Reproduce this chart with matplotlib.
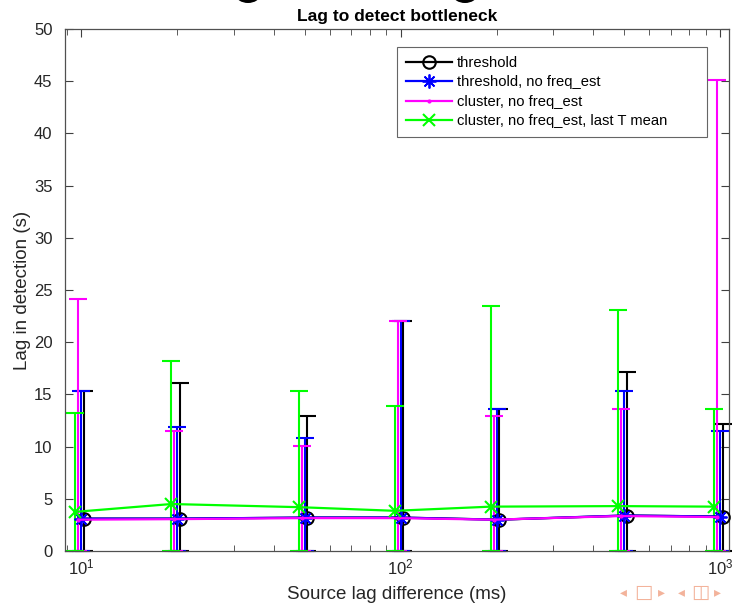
import matplotlib
matplotlib.use("Agg")
import matplotlib.pyplot as plt
import numpy as np
from matplotlib.patches import Ellipse
from matplotlib.ticker import LogLocator, NullFormatter, LogFormatterMathtext

plt.rcParams['font.family'] = ['Liberation Sans', 'DejaVu Sans']

# ---- data ----
source_lag = [10, 20, 50, 100, 200, 500, 1000]

thr_mean = [3.1, 3.1, 3.2, 3.2, 3.0, 3.4, 3.3]
thr_low = [0, 0, 0, 0, 0, 0, 0]
thr_high = [15.3, 16.05, 12.9, 22.0, 13.6, 17.15, 12.2]

thrnf_mean = [3.1, 3.1, 3.2, 3.2, 3.0, 3.4, 3.3]
thrnf_low = [0, 0, 0, 0, 0, 0, 0]
thrnf_high = [15.35, 11.9, 10.8, 22.0, 13.6, 15.35, 11.5]

clu_mean = [3.0, 3.05, 3.15, 3.15, 3.0, 3.35, 3.25]
clu_low = [0, 0, 0, 0, 0, 0, 0]
clu_high = [24.1, 11.5, 10.1, 22.0, 12.9, 13.6, 45.1]

cluT_mean = [3.75, 4.5, 4.2, 3.85, 4.25, 4.3, 4.25]
cluT_low = [0, 0, 0, 0, 0, 0, 0]
cluT_high = [13.25, 18.2, 15.35, 13.9, 23.45, 23.1, 13.6]

labels = ["threshold", "threshold, no freq_est", "cluster, no freq_est",
          "cluster, no freq_est, last T mean"]
yticks = [0, 5, 10, 15, 20, 25, 30, 35, 40, 45, 50]

# ---- figure ----
W, H = 733, 609
fig = plt.figure(figsize=(W / 100, H / 100), dpi=100)
ax = fig.add_axes([65 / W, 1 - 551 / H, (729 - 65) / W, (551 - 29) / H])

series = [
    (thr_mean, thr_low, thr_high, dict(color='black', marker='o', ms=9, mfc='none', mew=1.5), 1.018),
    (thrnf_mean, thrnf_low, thrnf_high, dict(color='#0000ff', marker=(8, 2, 0), ms=10, mew=1.3), 1.0),
    (clu_mean, clu_low, clu_high, dict(color='#ff00ff', marker='.', ms=4), 0.979),
    (cluT_mean, cluT_low, cluT_high, dict(color='#00ff00', marker='x', ms=9, mew=1.5), 0.958),
]

x = np.array(source_lag, dtype=float)
for (m, lo, hi, st, fac), lab in zip(series, labels):
    m = np.array(m); lo = np.array(lo); hi = np.array(hi)
    xs = x * fac
    ax.errorbar(xs, m, yerr=[m - lo, hi - m], fmt='none', ecolor=st['color'],
                elinewidth=1.5, capsize=6.8, capthick=1.5, clip_on=False, zorder=2)
    ax.plot(xs, m, linestyle='-', lw=1.6, label=lab, zorder=3, clip_on=False, **st)

ax.set_xscale('log')
ax.set_xlim(8.9, 1065)
ax.set_ylim(0, 50)
ax.set_yticks(yticks)
ax.xaxis.set_major_locator(LogLocator(base=10, numticks=10))
ax.xaxis.set_major_formatter(LogFormatterMathtext())
ax.xaxis.set_minor_locator(LogLocator(base=10, subs=np.arange(2, 10), numticks=20))
ax.xaxis.set_minor_formatter(NullFormatter())

ax.tick_params(axis='both', which='both', direction='in', top=True, right=True,
               colors='#404040', labelcolor='#262626', labelsize=12)
ax.tick_params(axis='both', which='major', length=6, width=0.8)
ax.tick_params(axis='x', which='minor', length=4, width=0.6)
ax.tick_params(axis='x', which='major', pad=5)
ax.tick_params(axis='y', which='major', pad=9)
for s in ax.spines.values():
    s.set_color('#505050')
    s.set_linewidth(0.9)

ax.set_xlabel("Source lag difference (ms)", fontsize=13.5, color='#262626', labelpad=6)
ax.set_ylabel("Lag in detection (s)", fontsize=13.5, color='#262626', labelpad=2)
ax.set_title("Lag to detect bottleneck", fontsize=12.5, fontweight='bold', pad=6)

leg = ax.legend(loc='upper left', bbox_to_anchor=(0.5, 0.3, 0.467, 0.6655), mode='expand',
                borderaxespad=0, fontsize=10.6, handlelength=3.1, frameon=True,
                fancybox=False, borderpad=0.62, labelspacing=0.36, handletextpad=0.35)
leg.get_frame().set_edgecolor('#404040')
leg.get_frame().set_linewidth(0.8)

# cropped slide-title remnants at the very top
for cx in (248, 465):
    fig.patches.append(Ellipse((cx / W, 1 + 5 / H), 24 / W, 16 / H, transform=fig.transFigure,
                               facecolor='black', edgecolor='none'))

# beamer navigation symbols
for px, sym, fs in zip([623, 643, 661, 681, 700, 717],
                       ["◂", "□", "▸", "◂", "◫", "▸"], [10, 14, 10, 10, 14, 10]):
    fig.text(px / W, 1 - 592 / H, sym, fontsize=fs, color='#f3b39b',
             family=['DejaVu Sans'], va='center', ha='center')

fig.savefig("out.png", dpi=100)
